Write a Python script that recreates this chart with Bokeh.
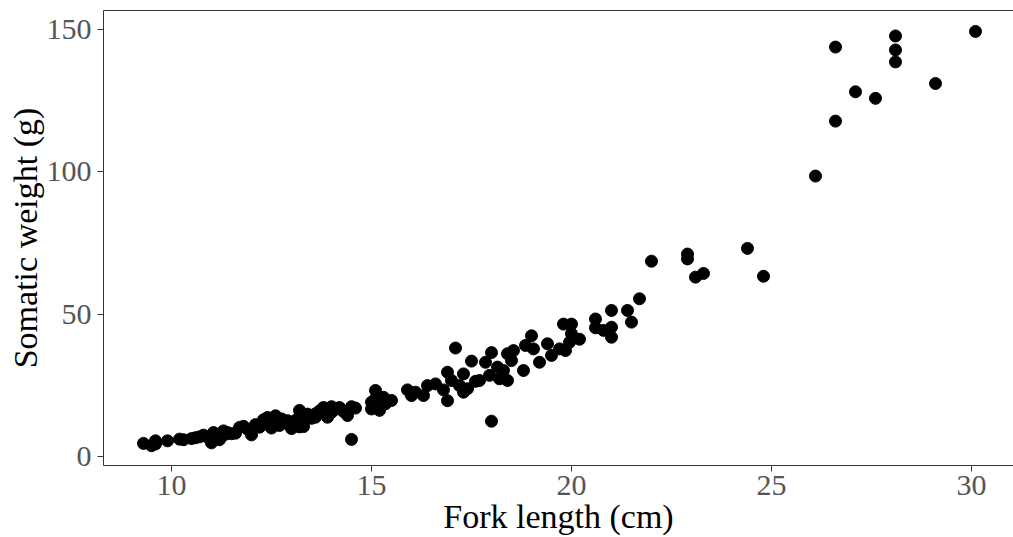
from bokeh.plotting import figure
from bokeh.models import Range1d, FixedTicker, LinearAxis, ColumnDataSource
from bokeh.embed import file_html
from bokeh.resources import INLINE

fork_length = [
    9.3, 9.5, 9.6, 9.6, 9.9, 10.2, 10.3, 10.5, 10.6, 10.8, 10.9, 11.0, 11.05, 11.1,
    11.2, 11.3, 11.4, 11.5, 11.6, 11.7, 11.8, 11.9, 12.0, 12.0, 12.2, 12.3, 12.35,
    12.4, 12.5, 12.6, 12.7, 12.8, 12.9, 12.9, 13.0, 13.1, 13.2, 13.2, 13.3, 13.4,
    13.5, 13.6, 13.6, 13.8, 13.9, 14.0, 14.0, 14.2, 14.4, 14.5, 14.5, 14.6,
    15.0, 15.0, 15.1, 15.1, 15.15, 15.2, 15.2, 15.3, 15.35, 15.5, 15.9, 16.0, 16.1,
    16.3, 16.4, 16.6, 16.8, 16.9, 16.9, 17.0, 17.1, 17.2, 17.3, 17.3, 17.4, 17.5,
    17.6, 17.7, 17.85, 18.0, 17.95, 18.0, 18.15, 18.3, 18.2, 18.4, 18.4, 18.55,
    18.5, 18.8, 18.85, 19.0, 19.05, 19.2, 19.4, 19.5, 19.7, 19.8, 20.0, 19.85,
    19.95, 20.0, 20.2, 20.6, 20.6, 20.8, 21.0, 21.0, 21.0, 21.4, 21.5, 21.7, 22.0,
    22.9, 22.9, 23.1, 23.3, 24.4, 24.8, 26.1, 26.6, 26.6, 27.1, 27.6, 28.1, 28.1,
    28.1, 29.1, 30.1,
    12.1, 12.45, 12.75, 13.05, 13.35, 13.7, 14.1, 14.3, 11.35, 10.7,
]
somatic_weight = [
    4.6, 3.8, 4.4, 5.5, 5.5, 6.1, 5.9, 6.3, 6.6, 7.5, 6.8, 4.8, 8.4, 7.2,
    5.9, 9.0, 8.4, 8.0, 8.2, 10.2, 10.6, 9.6, 9.1, 7.6, 10.3, 12.9, 11.4,
    13.7, 10.0, 14.3, 10.9, 12.1, 12.6, 11.5, 9.8, 12.7, 16.2, 10.4, 10.5, 14.9,
    13.4, 13.8, 15.0, 17.2, 13.8, 17.5, 15.5, 17.2, 14.4, 17.5, 6.0, 17.0,
    19.1, 16.7, 23.2, 20.3, 17.5, 16.2, 19.7, 20.8, 18.5, 19.7, 23.4, 21.4, 22.6,
    21.4, 24.9, 25.5, 23.4, 19.6, 29.6, 26.7, 38.1, 24.9, 29.0, 22.6, 23.8, 33.5,
    26.4, 26.7, 33.1, 36.5, 28.5, 12.4, 31.4, 30.2, 27.3, 26.7, 36.1, 37.2,
    33.7, 30.2, 39.0, 42.4, 37.8, 33.1, 39.6, 35.5, 37.8, 46.5, 46.5, 37.2,
    40.1, 43.1, 41.2, 48.3, 45.2, 44.3, 51.3, 45.4, 41.9, 51.3, 47.2, 55.4, 68.6,
    71.1, 69.4, 63.0, 64.3, 73.1, 63.3, 98.5, 143.8, 117.8, 128.1, 125.8, 147.7, 142.8,
    138.6, 131.0, 149.3,
    11.2, 12.0, 13.2, 11.0, 13.6, 16.0, 16.6, 15.8, 7.8, 6.9,
]

x_ticks = [10, 15, 20, 25, 30]
y_ticks = [0, 50, 100, 150]

src = ColumnDataSource(dict(x=fork_length, y=somatic_weight))

p = figure(
    frame_width=910, frame_height=455,
    min_border_left=103, min_border_right=0, min_border_top=10, min_border_bottom=72,
    x_range=Range1d(8.3, 31.05), y_range=Range1d(-3.16, 156.65),
    output_backend="svg", toolbar_location=None,
    x_axis_label="Fork length (cm)", y_axis_label="Somatic weight (g)",
)
p.outline_line_color = None
p.grid.visible = False
p.background_fill_color = "white"
p.border_fill_color = "white"

p.scatter("x", "y", source=src, size=12, color="black")

font = "Liberation Serif"
for ax, ticks in ((p.xaxis[0], x_ticks), (p.yaxis[0], y_ticks)):
    ax.ticker = FixedTicker(ticks=ticks)
    ax.minor_tick_line_color = None
    ax.major_tick_in = 0
    ax.major_tick_out = 6
    ax.major_tick_line_color = "#333333"
    ax.axis_line_color = "#333333"
    ax.major_label_text_font = font
    ax.major_label_text_font_size = "30px"
    ax.major_label_text_color = "#555555"
    ax.axis_label_text_font = font
    ax.axis_label_text_font_size = "34px"
    ax.axis_label_text_font_style = "normal"
    ax.axis_label_text_color = "black"

p.xaxis[0].major_label_standoff = 4
p.xaxis[0].axis_label_standoff = 0
p.yaxis[0].major_label_standoff = 6
p.yaxis[0].axis_label_standoff = 0

top = LinearAxis(ticker=FixedTicker(ticks=[]), axis_line_color="#333333",
                 major_tick_line_color=None, minor_tick_line_color=None,
                 major_label_text_font_size="0px")
p.add_layout(top, "above")

open("out.html", "w").write(file_html(p, INLINE))
